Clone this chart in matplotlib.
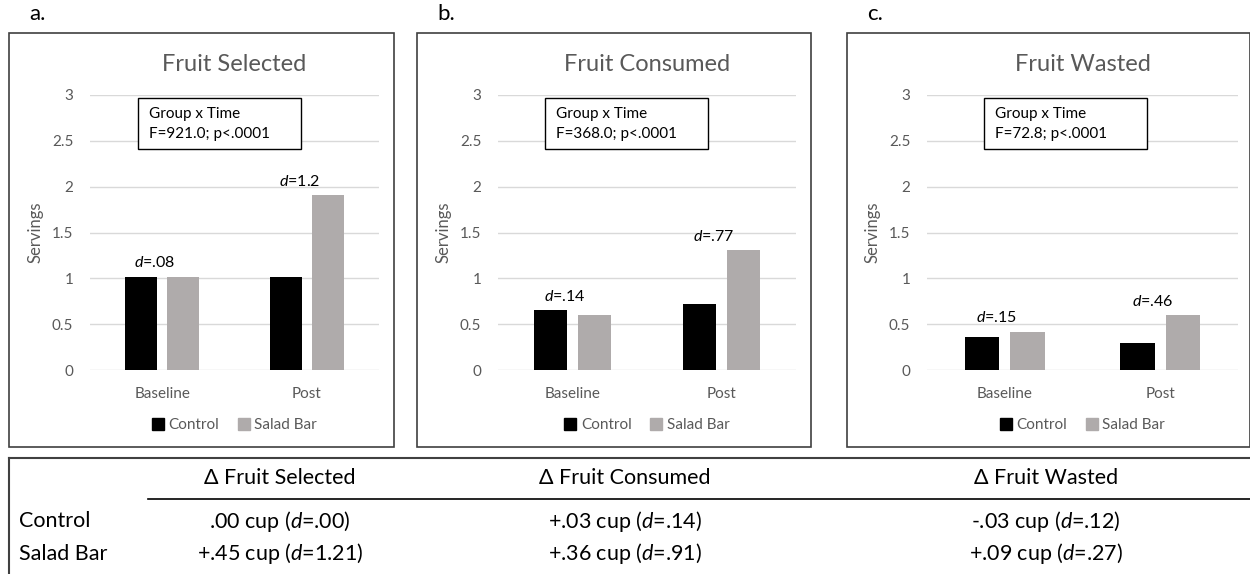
import numpy as np
import matplotlib
matplotlib.use('Agg')
from matplotlib import pyplot as plt
from matplotlib.patches import Rectangle, Patch
from matplotlib.lines import Line2D

plt.rcParams['font.family'] = ['Lato', 'DejaVu Sans']
plt.rcParams['mathtext.fontset'] = 'custom'
plt.rcParams['mathtext.rm'] = 'Lato'
plt.rcParams['mathtext.it'] = 'Lato:italic'

W, H = 1250, 574

# data
panels = ['a.', 'b.', 'c.']
titles = ['Fruit Selected', 'Fruit Consumed', 'Fruit Wasted']
times = ['Baseline', 'Post']
groups = ['Control', 'Salad Bar']
control = [[1.02, 1.02], [0.65, 0.72], [0.36, 0.30]]
salad_bar = [[1.01, 1.91], [0.60, 1.31], [0.42, 0.60]]
effect_d = [['.08', '1.2'], ['.14', '.77'], ['.15', '.46']]
f_stats = ['F=921.0; p<.0001', 'F=368.0; p<.0001', 'F=72.8; p<.0001']

table_cols = ['Δ Fruit Selected', 'Δ Fruit Consumed', 'Δ Fruit Wasted']
table_rows = ['Control', 'Salad Bar']
table_change = [['.00', '+.03', '-.03'], ['+.45', '+.36', '+.09']]
table_d = [['.00', '.14', '.12'], ['1.21', '.91', '.27']]

BLACK = '#000000'
GREY = '#afabab'
TXT = '#595959'


def fx(px):
    return px / W


def fy(py):
    return 1 - py / H


fig = plt.figure(figsize=(12.5, 5.74), dpi=100)

# panel frames and plot areas, in pixels
frames = [(9, 394), (417, 811), (847, 1250)]
areas = [(90, 379), (498, 796), (927, 1238)]
box_left = [48, 47, 57]

for i in range(3):
    fl, fr = frames[i]
    fig.patches.append(Rectangle((fx(fl), fy(447)), fx(fr - fl), (447 - 33) / H,
                                 transform=fig.transFigure, fill=False,
                                 ec='#404040', lw=1.2))
    fig.text(fx(fl + 20), fy(14), panels[i], fontsize=16, ha='left', va='center')

    al, ar = areas[i]
    ax = fig.add_axes([fx(al), fy(370), fx(ar - al), (370 - 95) / H])
    x = np.arange(len(times))
    off, bw = 0.145, 0.222
    ax.bar(x - off, control[i], bw, color=BLACK, zorder=3, label=groups[0])
    ax.bar(x + off, salad_bar[i], bw, color=GREY, zorder=3, label=groups[1])

    for j in range(len(times)):
        top = max(control[i][j], salad_bar[i][j])
        ax.text(x[j] - 0.05, top + 0.15, r'$d$=' + effect_d[i][j],
                ha='center', va='center', fontsize=11.5)

    ax.set_xlim(-0.5, 1.5)
    ax.set_ylim(0, 3)
    ax.set_yticks([0, 0.5, 1, 1.5, 2, 2.5, 3])
    ax.set_yticklabels(['0', '0.5', '1', '1.5', '2', '2.5', '3'])
    ax.set_xticks(x)
    ax.set_xticklabels(times)
    ax.tick_params(length=0, colors=TXT, labelsize=11)
    ax.tick_params(axis='y', pad=12)
    ax.tick_params(axis='x', pad=12)
    for s in ax.spines.values():
        s.set_visible(False)
    ax.yaxis.grid(True, color='#d9d9d9', lw=1, zorder=0)
    ax.set_axisbelow(True)
    ax.set_ylabel('Servings', color=TXT, fontsize=12, labelpad=6)
    ax.set_title(titles[i], color=TXT, fontsize=17, pad=17)

    # group x time box
    aw = ar - al
    bx = box_left[i] / aw
    ax.add_patch(Rectangle((bx, 1 - 54 / 275), 163 / aw, 51 / 275,
                           transform=ax.transAxes, fill=True, fc='white',
                           ec='black', lw=1, zorder=5, clip_on=False))
    ax.text(bx + 11 / aw, 1 - 19 / 275, 'Group x Time', transform=ax.transAxes,
            fontsize=11, va='center', ha='left', zorder=6)
    ax.text(bx + 11 / aw, 1 - 39 / 275, f_stats[i], transform=ax.transAxes,
            fontsize=11, va='center', ha='left', zorder=6)

    handles = [Patch(color=BLACK, label=groups[0]), Patch(color=GREY, label=groups[1])]
    leg = ax.legend(handles=handles, loc='center', bbox_to_anchor=(0.5, -0.2),
                    ncol=2, frameon=False, fontsize=11, handlelength=0.8,
                    handleheight=0.8, handletextpad=0.3, columnspacing=1.2)
    for t in leg.get_texts():
        t.set_color(TXT)

# table
fig.add_artist(Line2D([fx(9), 1], [fy(458), fy(458)], color='#404040', lw=1.5))
fig.add_artist(Line2D([fx(9), fx(9)], [fy(458), 0], color='#404040', lw=1.5))
fig.add_artist(Line2D([fx(148), 1], [fy(499), fy(499)], color='black', lw=1.2))

col_x = [280, 625, 1046]
for c, name in enumerate(table_cols):
    fig.text(fx(col_x[c]), fy(478), name, ha='center', va='center', fontsize=15.5)
row_y = [521, 554]
for r, name in enumerate(table_rows):
    fig.text(fx(19), fy(row_y[r]), name, ha='left', va='center', fontsize=15.5)
    for c in range(len(table_cols)):
        s = table_change[r][c] + r' cup ($d$=' + table_d[r][c] + ')'
        fig.text(fx(col_x[c]), fy(row_y[r]), s, ha='center', va='center', fontsize=15.5)

fig.savefig('out.png', dpi=100)
